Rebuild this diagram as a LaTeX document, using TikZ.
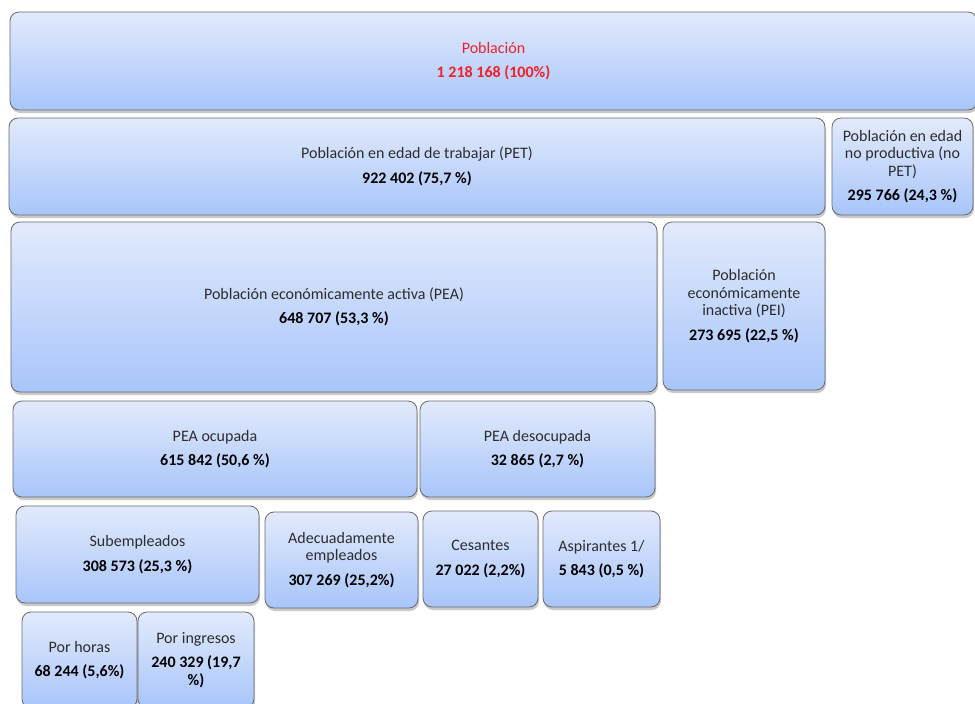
\documentclass[tikz,border=0pt]{standalone}
\usepackage{fontspec}
\setmainfont{Carlito}
\usetikzlibrary{positioning,shadows}
\definecolor{celltop}{RGB}{226,234,252}
\definecolor{cellbottom}{RGB}{168,197,250}
\definecolor{cellborder}{RGB}{105,105,112}
\definecolor{popred}{RGB}{240,32,40}
\definecolor{labelgray}{RGB}{45,45,45}
\tikzset{
  cell/.style={draw=cellborder,line width=0.8pt,rounded corners=9pt,top color=celltop,bottom color=cellbottom,
    drop shadow={shadow xshift=1pt,shadow yshift=-3pt,opacity=0.3,fill=black!70},
    align=center,inner sep=2pt,outer sep=0pt,anchor=north west,text=labelgray,font=\fontsize{16}{17.5}\selectfont},
}

\begin{document}
\begin{tikzpicture}[x=1pt,y=-1pt]
\useasboundingbox (0,0) rectangle (975,704);
\node[cell,minimum width=967pt,minimum height=98pt,text=popred,at={(10,12)}] (pob) {Población\\[7pt]\textbf{1 218 168 (100\%)}};
\node[cell,minimum width=816pt,minimum height=97pt,below=8pt of pob.south west,anchor=north west,xshift=-1pt] (pet) {Población en edad de trabajar (PET)\\[7pt]\textbf{\color{black}922 402 (75,7 \%)}};
\node[cell,minimum width=141pt,minimum height=97pt,right=7pt of pet.north east,anchor=north west] (nopet) {Población en edad\\no productiva (no\\PET)\\[7pt]\textbf{\color{black}295 766 (24,3 \%)}};
\node[cell,minimum width=646pt,minimum height=170pt,below=7pt of pet.south west,anchor=north west,xshift=2pt] (pea) {Población económicamente activa (PEA)\\[7pt]\textbf{\color{black}648 707 (53,3 \%)}};
\node[cell,minimum width=162pt,minimum height=168pt,right=6pt of pea.north east,anchor=north west] (pei) {Población\\económicamente\\inactiva (PEI)\\[7pt]\textbf{\color{black}273 695 (22,5 \%)}};
\node[cell,minimum width=404pt,minimum height=96pt,below=9pt of pea.south west,anchor=north west,xshift=2pt] (ocup) {PEA ocupada\\[7pt]\textbf{\color{black}615 842 (50,6 \%)}};
\node[cell,minimum width=235pt,minimum height=96pt,right=3pt of ocup.north east,anchor=north west] (desoc) {PEA desocupada\\[7pt]\textbf{\color{black}32 865 (2,7 \%)}};
\node[cell,minimum width=243pt,minimum height=97pt,below=9pt of ocup.south west,anchor=north west,xshift=3pt] (sub) {Subempleados\\[7pt]\textbf{\color{black}308 573 (25,3 \%)}};
\node[cell,minimum width=153pt,minimum height=96pt,right=6pt of sub.north east,anchor=north west,yshift=-6pt] (adec) {Adecuadamente\\empleados\\[7pt]\textbf{\color{black}307 269 (25,2\%)}};
\node[cell,minimum width=115pt,minimum height=96pt,right=5pt of adec.north east,anchor=north west,yshift=1pt] (ces) {Cesantes\\[7pt]\textbf{\color{black}27 022 (2,2\%)}};
\node[cell,minimum width=117pt,minimum height=96pt,right=5pt of ces.north east,anchor=north west] (asp) {Aspirantes 1/\\[7pt]\textbf{\color{black}5 843 (0,5 \%)}};
\node[cell,minimum width=115pt,minimum height=96pt,below=9pt of sub.south west,anchor=north west,xshift=6pt] (hrs) {Por horas\\[7pt]\textbf{\color{black}68 244 (5,6\%)}};
\node[cell,minimum width=116pt,minimum height=96pt,right=1pt of hrs.north east,anchor=north west] (ing) {Por ingresos\\[7pt]\textbf{\color{black}240 329 (19,7}\\\textbf{\color{black}\%)}};
\end{tikzpicture}
\end{document}
